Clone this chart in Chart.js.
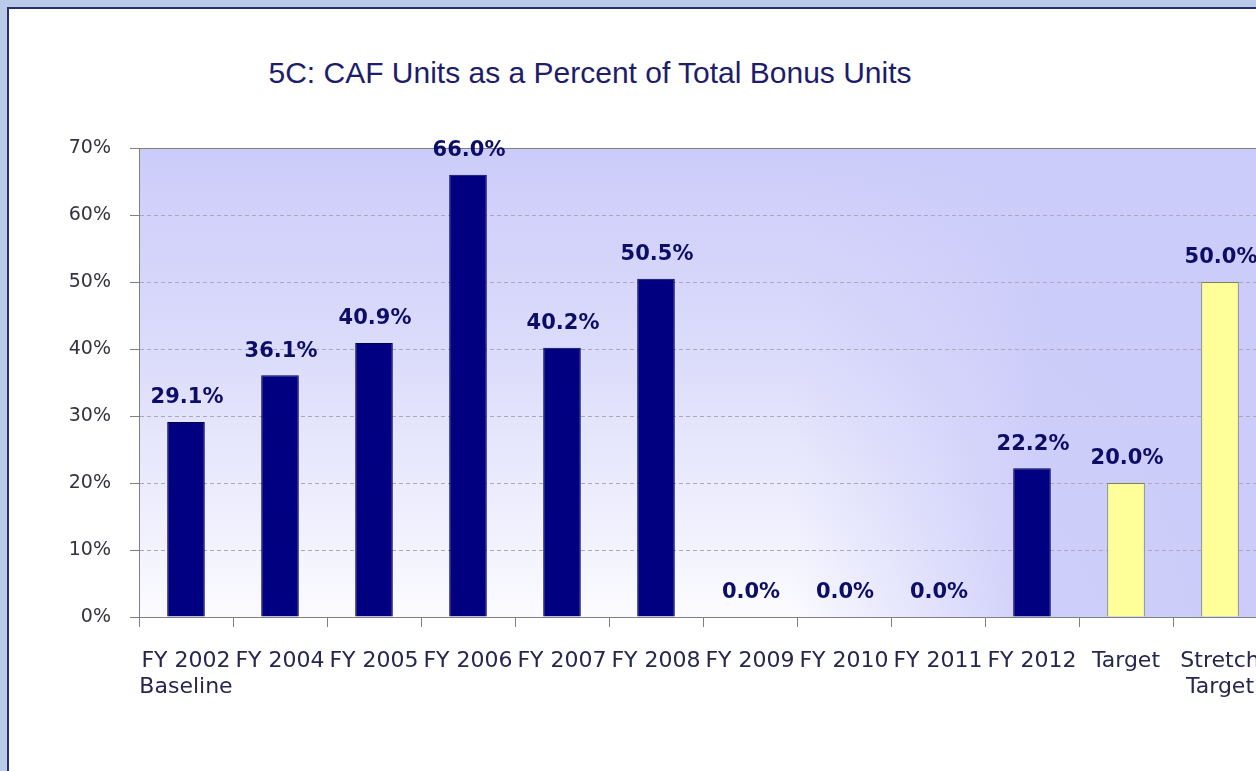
<!DOCTYPE html>
<html>
<head>
<meta charset="utf-8">
<title>5C: CAF Units as a Percent of Total Bonus Units</title>
<script src="https://cdn.jsdelivr.net/npm/chart.js@4.4.1/dist/chart.umd.min.js"></script>
<style>
  html, body { margin: 0; padding: 0; overflow: hidden; background: #b9cbe9; }
  #panel { position: absolute; left: 7px; top: 7px; width: 1300px; height: 800px; background: #fff; border-left: 2px solid #27306b; border-top: 2px solid #27306b; }
  #title { position: absolute; left: 0; top: 56px; width: 1180px; text-align: center; font: 30px "Liberation Sans", Arial, sans-serif; color: #1d1d6b; }
  #wrap { position: absolute; left: 0; top: 0; width: 1290px; height: 771px; }
</style>
</head>
<body>
<div id="panel"></div>
<div id="title">5C: CAF Units as a Percent of Total Bonus Units</div>
<div id="wrap"><canvas id="cafChart"></canvas></div>
<script>
// categories along the x axis (arrays = two-line labels)
const categories = [
    ['FY 2002', 'Baseline'], 'FY 2004', 'FY 2005', 'FY 2006', 'FY 2007', 'FY 2008',
    'FY 2009', 'FY 2010', 'FY 2011', 'FY 2012', 'Target', ['Stretch', 'Target']
];
// actual CAF share per fiscal year, in percent
const actualPercent = [29.1, 36.1, 40.9, 66.0, 40.2, 50.5, 0.0, 0.0, 0.0, 22.2, null, null];
// goal bars
const targetPercent = [null, null, null, null, null, null, null, null, null, null, 20.0, 50.0];
const yTicks = [0, 10, 20, 30, 40, 50, 60, 70];

// shaded plot area + solid top edge
const plotBackground = {
    id: 'plotBackground',
    beforeDraw(chart) {
        const { ctx, chartArea: a } = chart;
        const w = a.right - a.left, h = a.bottom - a.top;
        const v = ctx.createLinearGradient(0, a.top, 0, a.bottom);
        v.addColorStop(0, '#ccccfa');
        v.addColorStop(0.45, '#dcdcfb');
        v.addColorStop(1, '#fbfbff');
        const hz = ctx.createLinearGradient(a.left, 0, a.right, 0);
        hz.addColorStop(0, 'rgba(204,204,250,0)');
        hz.addColorStop(0.58, 'rgba(204,204,250,0)');
        hz.addColorStop(0.8, 'rgba(204,204,250,0.95)');
        hz.addColorStop(1, 'rgba(204,204,250,1)');
        ctx.save();
        ctx.fillStyle = v;
        ctx.fillRect(a.left, a.top, w, h);
        ctx.fillStyle = hz;
        ctx.fillRect(a.left, a.top, w, h);
        ctx.restore();
    },
    beforeDatasetsDraw(chart) {
        const { ctx, chartArea: a } = chart;
        ctx.save();
        ctx.strokeStyle = '#808080';
        ctx.lineWidth = 1;
        ctx.beginPath();
        ctx.moveTo(a.left, a.top + 0.5);
        ctx.lineTo(a.right, a.top + 0.5);
        ctx.stroke();
        ctx.restore();
    }
};

// value labels above each bar
const barValueLabels = {
    id: 'barValueLabels',
    afterDatasetsDraw(chart) {
        const ctx = chart.ctx;
        ctx.save();
        ctx.font = 'bold 21px "DejaVu Sans"';
        ctx.fillStyle = '#0d0d68';
        ctx.textAlign = 'center';
        ctx.textBaseline = 'middle';
        chart.data.datasets.forEach((ds, i) => {
            chart.getDatasetMeta(i).data.forEach((bar, j) => {
                const v = ds.data[j];
                if (v === null) return;
                ctx.fillText(v.toFixed(1) + '%', bar.x + 1, bar.y - 24);
            });
        });
        ctx.restore();
    }
};

const ctx = document.getElementById('cafChart').getContext('2d');
new Chart(ctx, {
    type: 'bar',
    data: {
        labels: categories,
        datasets: [{
            data: actualPercent,
            backgroundColor: '#000080',
            borderColor: '#00004d',
            borderWidth: 1,
            grouped: false,
            barPercentage: 0.8,
            categoryPercentage: 0.5
        }, {
            data: targetPercent,
            backgroundColor: '#ffff99',
            borderColor: '#7f7f66',
            borderWidth: 1,
            grouped: false,
            barPercentage: 0.8,
            categoryPercentage: 0.5
        }]
    },
    options: {
        responsive: true,
        maintainAspectRatio: false,
        animation: false,
        layout: { padding: { top: 148, right: 23, bottom: 0, left: 0 } },
        plugins: { legend: { display: false }, tooltip: { enabled: false } },
        scales: {
            x: {
                grid: { offset: true, drawOnChartArea: false, tickLength: 10, color: '#808080' },
                border: { color: '#808080' },
                ticks: {
                    color: '#26264f',
                    font: { family: 'DejaVu Sans', size: 22 },
                    padding: 21,
                    maxRotation: 0,
                    autoSkip: false
                },
                afterFit(scale) { scale.height = 154; }
            },
            y: {
                min: 0,
                max: 70,
                afterBuildTicks(scale) { scale.ticks = yTicks.map(v => ({ value: v })); },
                ticks: {
                    callback: v => v + '%',
                    color: '#333340',
                    font: { family: 'DejaVu Sans', size: 19 },
                    padding: 19
                },
                grid: { color: '#a9a9bb', tickLength: 9, tickColor: '#808080' },
                border: { color: '#808080', dash: [4, 3] },
                afterFit(scale) { scale.width = 139; }
            }
        }
    },
    plugins: [plotBackground, barValueLabels]
});
</script>
</body>
</html>
